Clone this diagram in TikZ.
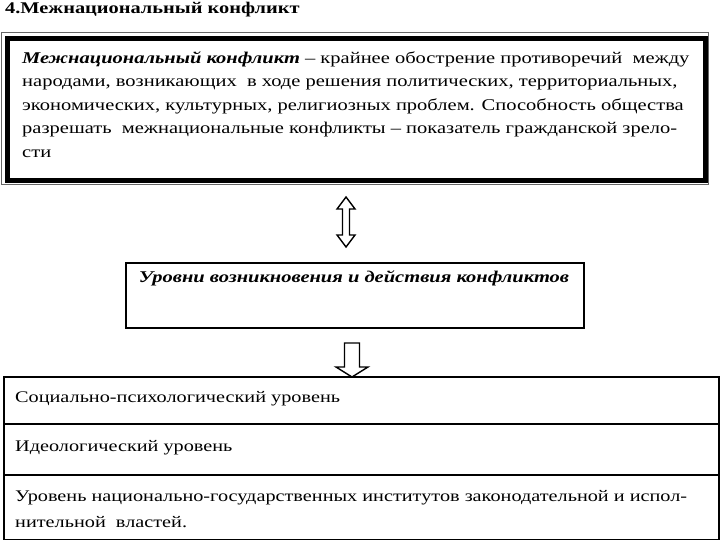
\documentclass[tikz,border=0pt]{standalone}
\usepackage{fontspec}
\setmainfont{Liberation Serif}[FakeStretch=1.25]
\begin{document}
\begin{tikzpicture}[x=1pt,y=-1pt,
  txt/.style={anchor=base west, inner sep=0pt, font=\fontsize{16.4}{23.5}\selectfont},
  btxt/.style={anchor=base west, inner sep=0pt, font=\fontsize{16.2}{23.5}\selectfont},
  boxline/.style={draw=black, line width=2pt},
  blockarrow/.style={draw=black, line width=1.4pt, fill=white, line join=miter}]
\useasboundingbox (0,0) rectangle (720,540);
% title
\node[anchor=base west, inner sep=0pt, font=\bfseries\fontsize{16.3}{20}\selectfont] (title) at (5,14) {4.Межнациональный конфликт};
% top box
\draw[line width=0.8pt, black!60] (1,32) rectangle (708,184);
\node[draw=black, line width=5pt, anchor=north west, minimum width=697.5pt, minimum height=142pt, inner sep=0pt] (def) at (5,36) {};
\node[txt] (d1) at (22,63.5) {\textbf{\textit{Межнациональный конфликт}} – крайнее обострение противоречий\ \ между};
\node[txt] (d2) at (22,87) {народами, возникающих\ \ в ходе решения политических, территориальных,};
\node[txt] (d3) at (22,110.5) {экономических, культурных, религиозных проблем. Способность общества};
\node[txt] (d4) at (22,134) {разрешать\ \ межнациональные конфликты – показатель гражданской зрело-};
\node[txt] (d5) at (22,157.5) {сти};
% double arrow
\coordinate (a1) at (346,222);
\draw[blockarrow, shift={(a1)}] (0,-25) -- (9,-13) -- (3.5,-13) -- (3.5,13) -- (9,13) -- (0,25)
   -- (-9,13) -- (-3.5,13) -- (-3.5,-13) -- (-9,-13) -- cycle;
% middle box
\node[boxline, anchor=north west, minimum width=458pt, minimum height=65pt, inner sep=0pt] (lev) at (125,262) {};
\node[anchor=base, inner sep=0pt, font=\bfseries\itshape\fontsize{16.4}{23.5}\selectfont] (levt) at (354,282) {Уровни возникновения и действия конфликтов};
% bottom rows
\node[boxline, anchor=north west, minimum width=715pt, minimum height=47pt, inner sep=0pt] (r1) at (3,376) {};
\node[boxline, anchor=north west, minimum width=715pt, minimum height=51pt, inner sep=0pt] (r2) at (3,423) {};
\node[boxline, anchor=north west, minimum width=715pt, minimum height=65pt, inner sep=0pt] (r3) at (3,474) {};
% down arrow
\coordinate (a2) at (352,343);
\draw[blockarrow, shift={(a2)}] (-7.5,0) -- (7.5,0) -- (7.5,24) -- (16,24) -- (0,34) -- (-16,24) -- (-7.5,24) -- cycle;
\node[btxt] (t1) at (15,402) {Социально-психологический уровень};
\node[btxt] (t2) at (15,451) {Идеологический уровень};
\node[btxt] (t3) at (15,501) {Уровень национально-государственных институтов законодательной и испол-};
\node[btxt] (t4) at (15,527) {нительной\ \ властей.};
\end{tikzpicture}
\end{document}
